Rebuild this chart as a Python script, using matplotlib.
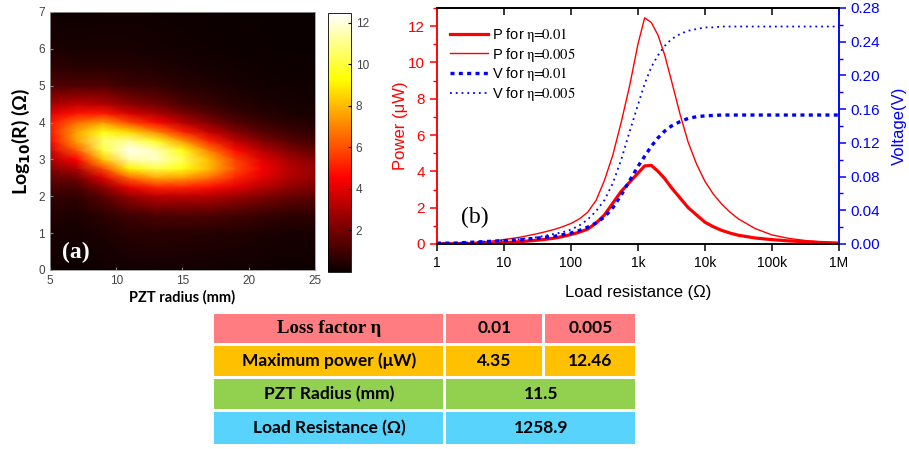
import numpy as np
import matplotlib.pyplot as plt
from matplotlib.patches import Rectangle
from matplotlib.ticker import MultipleLocator, NullLocator

plt.rcParams['font.family'] = ['Liberation Sans', 'DejaVu Sans']
plt.rcParams['mathtext.fontset'] = 'stix'

# (a) power map (uW): one list per PZT radius, values along log10(R)
radius_mm = [5, 7, 9, 11, 13, 15, 17, 19, 21, 23, 25]
log10_r = [0, 1, 1.5, 2, 2.25, 2.5, 2.75, 3, 3.25, 3.5, 3.75, 4, 4.25, 4.5, 5, 5.5, 6, 7]
power_by_radius = [
    [0.1, 0.28, 0.45, 0.8, 1.2, 1.7, 2.3, 3.0, 3.8, 4.6, 5.0, 4.9, 4.0, 2.9, 1.4, 0.7, 0.35, 0.12],
    [0.07, 0.2, 0.37, 0.75, 1.2, 1.9, 3.1, 4.6, 6.2, 7.5, 7.6, 6.6, 4.9, 3.4, 1.3, 0.55, 0.29, 0.09],
    [0.12, 0.35, 0.65, 1.5, 2.4, 3.9, 5.9, 8.2, 10.1, 10.7, 9.5, 7.4, 5.0, 3.2, 1.3, 0.57, 0.31, 0.12],
    [0.18, 0.55, 1.05, 2.6, 4.2, 6.4, 9.1, 11.4, 12.3, 11.1, 8.6, 5.9, 3.8, 2.4, 0.95, 0.5, 0.27, 0.1],
    [0.19, 0.6, 1.3, 3.3, 5.2, 7.6, 10.2, 11.7, 11.5, 9.7, 7.1, 4.7, 3.0, 1.9, 0.8, 0.42, 0.23, 0.1],
    [0.18, 0.57, 1.3, 3.3, 5.2, 7.4, 9.5, 10.3, 9.5, 7.4, 5.2, 3.3, 2.1, 1.3, 0.57, 0.31, 0.18, 0.07],
    [0.16, 0.53, 1.3, 3.2, 4.8, 6.6, 8.0, 8.0, 6.9, 5.2, 3.5, 2.2, 1.4, 0.88, 0.41, 0.23, 0.13, 0.05],
    [0.13, 0.44, 1.1, 2.7, 4.0, 5.2, 5.95, 5.7, 4.7, 3.4, 2.2, 1.4, 0.85, 0.55, 0.27, 0.15, 0.09, 0.03],
    [0.1, 0.35, 0.88, 2.2, 3.2, 4.0, 4.4, 4.0, 3.2, 2.2, 1.4, 0.88, 0.55, 0.35, 0.19, 0.1, 0.06, 0.02],
    [0.08, 0.29, 0.73, 1.8, 2.5, 3.1, 3.3, 2.9, 2.2, 1.5, 1.0, 0.62, 0.38, 0.25, 0.13, 0.07, 0.04, 0.015],
    [0.07, 0.25, 0.65, 1.5, 2.1, 2.5, 2.55, 2.2, 1.6, 1.1, 0.7, 0.44, 0.28, 0.18, 0.1, 0.05, 0.03, 0.01],
]
power_max = 12.46

# (b) power (uW) and voltage (V) against load resistance, given as log10(ohm)
load_log10 = [0, 0.25, 0.5, 0.75, 1, 1.25, 1.5, 1.625, 1.75, 1.875, 2, 2.125, 2.25, 2.375,
              2.5, 2.625, 2.75, 2.875, 3.0, 3.1, 3.2, 3.3, 3.4, 3.5, 3.625, 3.75, 3.875,
              4.0, 4.125, 4.25, 4.375, 4.5, 4.75, 5, 5.25, 5.5, 5.75, 6]
p_eta_001 = [0.01, 0.015, 0.025, 0.04, 0.07, 0.13, 0.21, 0.26, 0.32, 0.41, 0.52, 0.65, 0.82,
             1.15, 1.6, 2.25, 2.9, 3.4, 3.9, 4.3, 4.33, 4.0, 3.6, 3.1, 2.55, 2.0, 1.6, 1.2,
             0.95, 0.75, 0.6, 0.48, 0.33, 0.24, 0.17, 0.12, 0.08, 0.05]
p_eta_0005 = [0.02, 0.04, 0.07, 0.13, 0.24, 0.38, 0.57, 0.68, 0.8, 0.95, 1.13, 1.38, 1.75, 2.4,
              3.5, 4.9, 6.7, 8.7, 11.0, 12.46, 12.2, 11.5, 10.4, 9.0, 7.2, 5.6, 4.4, 3.45,
              2.75, 2.2, 1.75, 1.38, 0.85, 0.5, 0.31, 0.19, 0.11, 0.06]
v_eta_001 = [0.001, 0.001, 0.002, 0.003, 0.004, 0.005, 0.007, 0.008, 0.009, 0.011, 0.013,
             0.016, 0.02, 0.025, 0.032, 0.043, 0.058, 0.075, 0.092, 0.104, 0.116, 0.126,
             0.134, 0.14, 0.145, 0.149, 0.151, 0.152, 0.1525, 0.153, 0.153, 0.153, 0.153,
             0.153, 0.153, 0.153, 0.153, 0.153]
v_eta_0005 = [0.001, 0.001, 0.002, 0.003, 0.004, 0.006, 0.008, 0.01, 0.012, 0.014, 0.017,
              0.022, 0.029, 0.039, 0.052, 0.072, 0.1, 0.133, 0.165, 0.19, 0.21, 0.224,
              0.235, 0.243, 0.249, 0.253, 0.255, 0.257, 0.257, 0.258, 0.258, 0.258, 0.258,
              0.258, 0.258, 0.258, 0.258, 0.258]
decade_labels = ['1', '10', '100', '1k', '10k', '100k', '1M']

# table contents
table_rows = ['Loss factor η', 'Maximum power (μW)', 'PZT Radius (mm)', 'Load Resistance (Ω)']
table_eta = ['0.01', '0.005']
table_pmax = ['4.35', '12.46']
table_radius = '11.5'
table_load = '1258.9'
row_colors = ['#FF7C80', '#FFC000', '#92D050', '#57D3FC']

fig = plt.figure(figsize=(9.09, 4.49), dpi=100)

# ---------- (a) heatmap ----------
axa = fig.add_axes([0.055, 0.3987, 0.2915, 0.5746])
im = axa.pcolormesh(radius_mm, log10_r, np.array(power_by_radius).T, shading='gouraud',
                    cmap='hot', vmin=0, vmax=power_max)
axa.set_xlim(5, 25)
axa.set_ylim(0, 7)
axa.set_xticks([5, 10, 15, 20, 25])
axa.set_yticks(range(0, 8))
axa.tick_params(labelsize=8.5, labelcolor='#444444', length=2, direction='in', color='#888888')
for s in axa.spines.values():
    s.set_color('#999999')
    s.set_linewidth(0.6)
axa.set_xlabel('PZT radius (mm)', family='Lato', fontweight='bold', fontsize=10.5, labelpad=2)
axa.set_ylabel('Log$_{\\mathbf{10}}$(R) (Ω)', family='Lato', fontweight='bold',
               fontsize=14, labelpad=5, math_fontfamily='dejavusans')
axa.text(0.045, 0.045, '(a)', transform=axa.transAxes, color='white', fontsize=17,
         fontweight='bold', family='Liberation Serif')

cax = fig.add_axes([0.3608, 0.3942, 0.0253, 0.5768])
cb = fig.colorbar(im, cax=cax, ticks=[2, 4, 6, 8, 10, 12])
cb.outline.set_linewidth(0.6)
cax.tick_params(labelsize=8.5, labelcolor='#444444', length=2, direction='in')

# ---------- (b) power / voltage ----------
load_r = 10 ** np.array(load_log10)
axb = fig.add_axes([0.4807, 0.4566, 0.4422, 0.5256])
axv = axb.twinx()
l1, = axb.plot(load_r, p_eta_001, color='red', lw=2.3,
               label=r'P for $\mathrm{\eta}\!\!=\!\!\mathrm{0.01}$')
l2, = axb.plot(load_r, p_eta_0005, color='red', lw=1.0,
               label=r'P for $\mathrm{\eta}\!\!=\!\!\mathrm{0.005}$')
l3, = axv.plot(load_r, v_eta_001, color='blue', lw=2.4, ls=(0, (1.2, 1.3)),
               label=r'V for $\mathrm{\eta}\!\!=\!\!\mathrm{0.01}$')
l4, = axv.plot(load_r, v_eta_0005, color='blue', lw=1.3, ls=(0, (1, 2.2)),
               label=r'V for $\mathrm{\eta}\!\!=\!\!\mathrm{0.005}$')

axb.set_xscale('log')
axb.set_xlim(1, 1e6)
decades = [10 ** k for k in range(7)]
axb.set_xticks(decades)
axb.set_xticklabels(decade_labels)
axb.xaxis.set_minor_locator(NullLocator())
axb.set_ylim(0, 13)
axb.set_yticks(range(0, 13, 2))
axb.yaxis.set_minor_locator(MultipleLocator(1))
axv.set_ylim(0, 0.28)
vt = np.arange(0, 0.281, 0.04)
axv.set_yticks(vt)
axv.set_yticklabels(['%.2f' % t for t in vt])
axv.yaxis.set_minor_locator(MultipleLocator(0.02))

top = axb.secondary_xaxis('top')
top.set_xticks(decades)
top.xaxis.set_minor_locator(NullLocator())
top.tick_params(direction='in', labeltop=False, length=5, width=1.1)

axb.tick_params(axis='x', length=5, width=1.1, labelsize=10)
axb.tick_params(axis='y', which='major', colors='red', length=5, width=1.1, labelsize=11)
axb.tick_params(axis='y', which='minor', colors='red', length=3, width=1.0)
axv.tick_params(axis='y', which='major', colors='blue', length=5, width=1.1, labelsize=11)
axv.tick_params(axis='y', which='minor', colors='blue', length=3, width=1.0)

for a in (axb, axv):
    a.spines['left'].set_color('red')
    a.spines['right'].set_color('blue')
    for s in a.spines.values():
        s.set_linewidth(1.1)
top.spines['top'].set_linewidth(1.1)

axb.set_xlabel('Load resistance (Ω)', fontsize=12, labelpad=11)
axb.set_ylabel('Power (μW)', fontsize=12, color='red', labelpad=0)
axv.set_ylabel('Voltage(V)', fontsize=12, color='blue', labelpad=8)
axb.text(0.06, 0.09, '(b)', transform=axb.transAxes, fontsize=17, family='Liberation Serif')

axv.legend(handles=[l1, l2, l3, l4], loc='upper left', frameon=False, fontsize=10.5,
           handlelength=2.6, handletextpad=0.3, labelspacing=0.12,
           bbox_to_anchor=(0.0, 0.98), borderaxespad=0.5)

# ---------- table ----------
axt = fig.add_axes([0.2343, 0.0067, 0.4664, 0.2984])
axt.set_xlim(0, 424)
axt.set_ylim(134, 0)
axt.axis('off')
row_edges = [0, 32, 65, 99, 134]
col_edges = [0, 232, 331, 424]
gap = 1.5
cell_font = dict(family='Lato', fontweight='bold', fontsize=12.5, ha='center', va='center')

for i, name in enumerate(table_rows):
    y0, y1 = row_edges[i], row_edges[i + 1]
    if i < 2:
        cells = [(col_edges[0], col_edges[1]), (col_edges[1], col_edges[2]), (col_edges[2], col_edges[3])]
        texts = [name] + (table_eta if i == 0 else table_pmax)
    else:
        cells = [(col_edges[0], col_edges[1]), (col_edges[1], col_edges[3])]
        texts = [name, table_radius if i == 2 else table_load]
    for (x0, x1), t in zip(cells, texts):
        axt.add_patch(Rectangle((x0 + gap, y0 + gap), x1 - x0 - 2 * gap, y1 - y0 - 2 * gap,
                                facecolor=row_colors[i], edgecolor='none'))
        kw = dict(cell_font)
        if i == 0 and x0 == 0:
            kw.update(family='Liberation Serif', fontsize=13.5)
        axt.text((x0 + x1) / 2, (y0 + y1) / 2, t, **kw)

fig.savefig('out.png', dpi=100)
